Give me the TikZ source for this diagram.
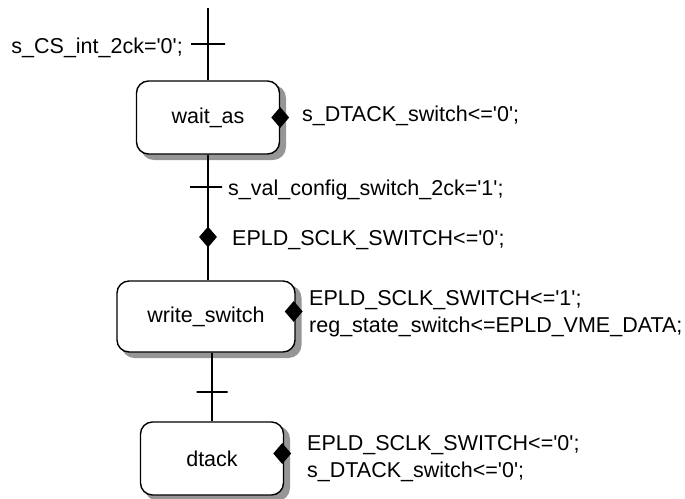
\documentclass[tikz,border=0pt]{standalone}
\usepackage{fontspec}
\setmainfont{Liberation Sans}[Ligatures=TeXOff]
\usetikzlibrary{positioning,calc,shapes.geometric}
\definecolor{shadowgray}{RGB}{150,150,150}

\begin{document}
\begin{tikzpicture}[
  x=1pt, y=-1pt,
  font=\fontsize{21.5}{27}\selectfont,
  state/.style={draw, line width=1.4pt, rounded corners=12pt, fill=white, inner sep=0pt,
    minimum width=143pt, minimum height=73pt},
  shadowbox/.style={draw=shadowgray, fill=shadowgray, line width=2pt, rounded corners=12pt, inner sep=0pt,
    minimum width=143pt, minimum height=73pt},
  tick/.style={draw, line width=1.4pt, minimum width=34pt, minimum height=0pt, inner sep=0pt, outer sep=0pt},
  act/.style={diamond, fill=black, minimum width=18pt, minimum height=21pt, inner sep=0pt},
  txt/.style={anchor=base west, align=left, inner sep=0pt},
  wire/.style={line width=1.4pt}
]
\useasboundingbox (0,0) rectangle (685,498);
% shadows
\node[shadowbox] (sh1) at (213.5,122.5) {};
\node[shadowbox, minimum width=178pt, minimum height=71pt] (sh2) at (211.5,321.5) {};
\node[shadowbox] (sh3) at (217.5,463.5) {};
% states
\coordinate (top) at (208,8);
\node[state] (wait) at (208,117.5) {wait\_as};
\node[state, minimum width=178pt, minimum height=71pt] (write) at (206,316.5) {write\_switch};
\node[state] (dtack) at (212,458.5) {dtack};
\draw[wire] (top) -- (wait.north);
\draw[wire] (wait.south) -- (wait.south |- write.north);
\draw[wire] (write.south -| dtack.north) -- (dtack.north);
% conditions
\node[tick] (t1) at (208,44) {};
\node[tick, minimum width=32pt] (t2) at (206,187) {};
\node[tick, minimum width=31pt] (t3) at (212,392) {};
\node[txt, anchor=base east] (c1) at (183,53) {s\_CS\_int\_2ck='0';};
\node[txt] (c2) at (228,195) {s\_val\_config\_switch\_2ck='1';};
% actions
\node[act] (d1) at (wait.east) {};
\node[act] (d2) at (208,237) {};
\node[act] (d3) at ($(write.east)+(-2,-5)$) {};
\node[act] (d4) at ($(dtack.east)+(-2,-5)$) {};
\node[txt] (a1) at (302,121) {s\_DTACK\_switch<='0';};
\node[txt] (a2) at (232,245) {EPLD\_SCLK\_SWITCH<='0';};
\node[txt] (a3) at (309,332) {EPLD\_SCLK\_SWITCH<='1';\\reg\_state\_switch<=EPLD\_VME\_DATA;};
\node[txt] (a4) at (307,477) {EPLD\_SCLK\_SWITCH<='0';\\s\_DTACK\_switch<='0';};
\end{tikzpicture}
\end{document}
